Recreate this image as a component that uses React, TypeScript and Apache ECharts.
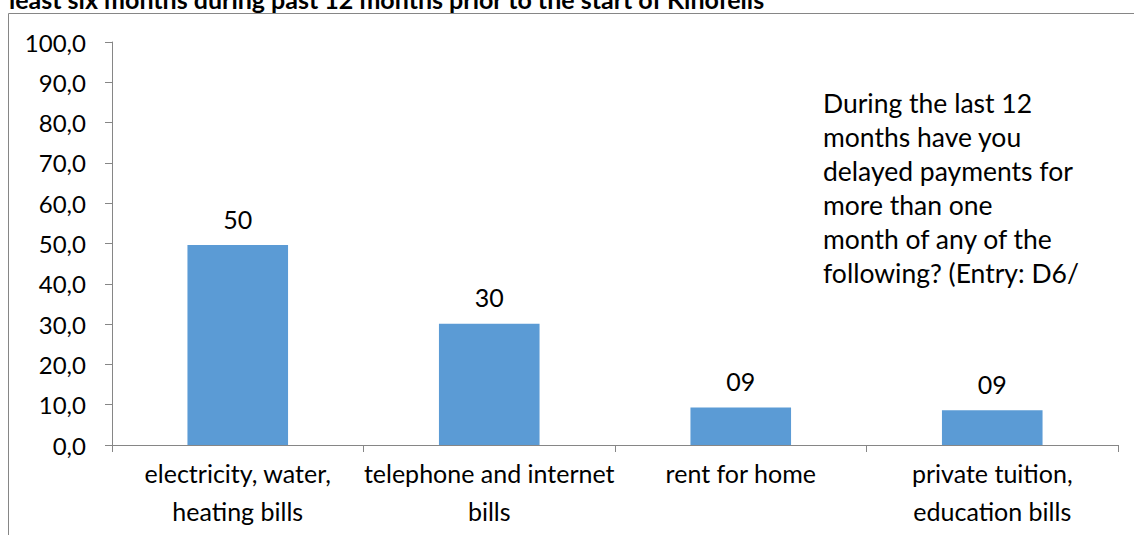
import React, { useEffect, useRef } from "react";
import * as echarts from "echarts";

const categories = [
  "electricity, water,\nheating bills",
  "telephone and internet\nbills",
  "rent for home",
  "private tuition,\neducation bills",
];
const values = [49.6, 30.1, 9.3, 8.6];
const yTicks = { min: 0, max: 100, interval: 10 };
const titleText =
  "least six months during past 12 months prior to the start of Kinofelis";
const noteLines = [
  "During the last 12",
  "months have you",
  "delayed payments for",
  "more than one",
  "month of any of the",
  "following? (Entry: D6/",
];

const FONT = "Lato, Calibri, Carlito, sans-serif";
const AXIS = "#868686";

export default function App() {
  const ref = useRef<HTMLDivElement>(null);
  useEffect(() => {
    if (!ref.current) return;
    const chart = echarts.init(ref.current, null, { renderer: "svg" });
    chart.setOption({
      animation: false,
      backgroundColor: "#ffffff",
      textStyle: { fontFamily: FONT },
      grid: { left: 112, right: 16, top: 42, bottom: 90, containLabel: false },
      xAxis: {
        type: "category",
        data: categories,
        axisLine: { lineStyle: { color: AXIS, width: 1 } },
        axisTick: { show: true, length: 7, lineStyle: { color: AXIS } },
        axisLabel: {
          color: "#000",
          fontSize: 25,
          fontFamily: FONT,
          lineHeight: 38,
          margin: 9,
          interval: 0,
        },
      },
      yAxis: {
        type: "value",
        min: yTicks.min,
        max: yTicks.max,
        interval: yTicks.interval,
        splitLine: { show: false },
        axisLine: { show: true, lineStyle: { color: AXIS, width: 1 } },
        axisTick: { show: true, length: 7, lineStyle: { color: AXIS } },
        axisLabel: {
          color: "#000",
          fontSize: 24,
          fontFamily: FONT,
          margin: 26,
          formatter: (v: number) => v.toFixed(1).replace(".", ","),
        },
      },
      series: [
        {
          type: "bar",
          data: values,
          barWidth: "40%",
          itemStyle: { color: "#5B9BD5" },
          label: {
            show: true,
            position: "top",
            distance: 14,
            color: "#000",
            fontSize: 25,
            fontFamily: FONT,
            formatter: (p: any) =>
              String(Math.round(p.value)).padStart(2, "0"),
          },
        },
      ],
      graphic: [
        {
          type: "rect",
          shape: { x: 8.5, y: 13.5, width: 1300, height: 700 },
          style: { fill: "none", stroke: AXIS, lineWidth: 1 },
          silent: true,
          z: -1,
        },
        {
          type: "text",
          x: 9,
          y: -1,
          style: {
            text: titleText,
            fill: "#000",
            font: `bold 25px ${FONT}`,
            verticalAlign: "middle",
            align: "left",
          },
        },
        {
          type: "text",
          x: 823,
          y: 86,
          style: {
            text: noteLines.join("\n"),
            fill: "#000",
            fontSize: 26.5,
            fontFamily: FONT,
            lineHeight: 34,
            verticalAlign: "top",
            align: "left",
          },
        },
      ],
    });
    return () => chart.dispose();
  }, []);
  return (
    <div
      ref={ref}
      style={{ position: "absolute", left: 0, top: 0, width: 1134, height: 535 }}
    />
  );
}
